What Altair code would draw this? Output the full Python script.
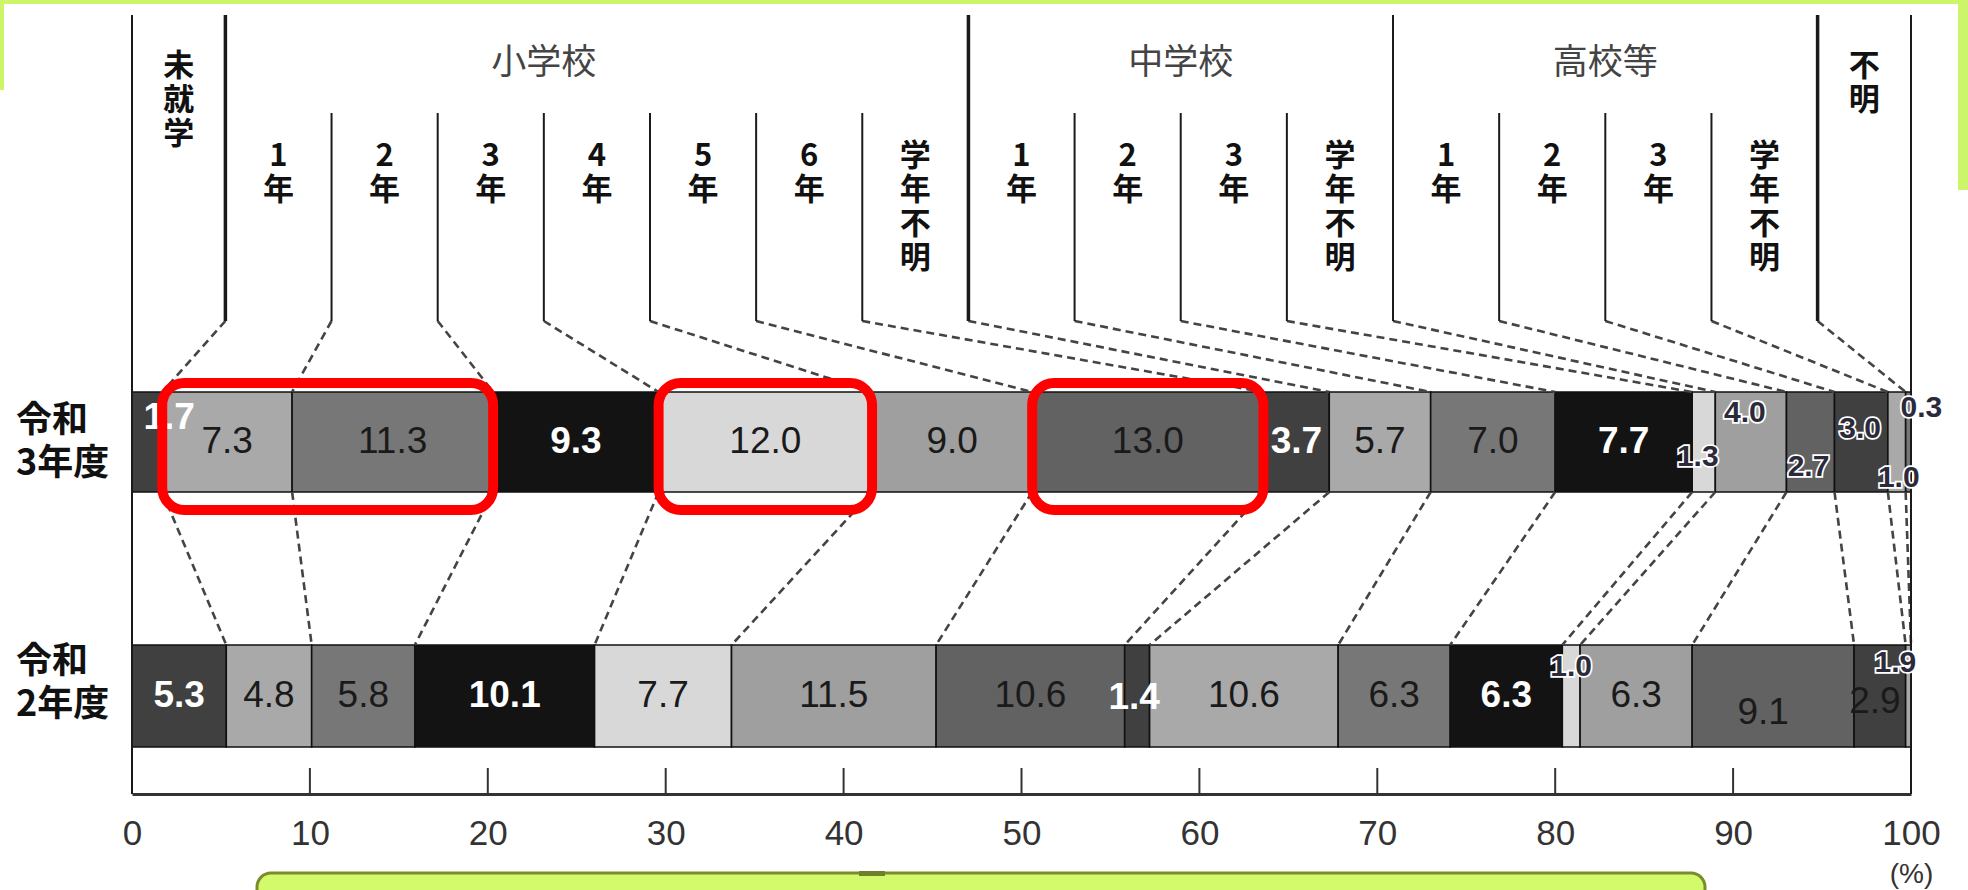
import altair as alt
import pandas as pd

# ---------------------------------------------------------------- data
ROWS = ["令和3年度", "令和2年度"]
ROW_TITLES = ["令和\n3年度", "令和\n2年度"]

GROUPS = ["未就学", "小学校", "中学校", "高校等", "不明"]
GROUP_GRADES = [
    [],
    ["1年", "2年", "3年", "4年", "5年", "6年", "学年不明"],
    ["1年", "2年", "3年", "学年不明"],
    ["1年", "2年", "3年", "学年不明"],
    [],
]

# shares (%) in category order: 未就学, 小1..小学年不明, 中1..中学年不明, 高1..高学年不明, 不明
SHARE_R3 = [1.7, 7.3, 11.3, 9.3, 12.0, 9.0, 13.0, 3.7, 5.7, 7.0, 7.7, 1.3, 4.0, 2.7, 3.0, 1.0, 0.3]
SHARE_R2 = [5.3, 4.8, 5.8, 10.1, 7.7, 11.5, 10.6, 1.4, 10.6, 6.3, 6.3, 1.0, 6.3, 9.1, 2.9, 1.9, None]

# segments framed in red on the 令和3年度 bar
HIGHLIGHT_R3 = [["小学校1年", "小学校2年"], ["小学校4年"], ["小学校6年"]]

TICKS = [0, 10, 20, 30, 40, 50, 60, 70, 80, 90, 100]

# ---------------------------------------------------------------- layout / style
PLOT_W, PLOT_H = 1779, 779
PX = PLOT_W / 100.0                      # pixels per percentage point
HEAD_TOP, SUB_TOP, HEAD_BOTTOM = 0, 98, 306
BAND = {"令和3年度": (377, 477), "令和2年度": (630, 732)}
ROW_TITLE_NUDGE = {"令和3年度": 0, "令和2年度": -13}
TICK_TOP = 753
EDGE_COL = 5.25                          # width of the 未就学 / 不明 header columns

PALETTE = ["#404040", "#a9a9a9", "#777777", "#131313", "#d8d8d8", "#9f9f9f", "#626262"]
DARK_FILLS = {"#404040", "#131313"}

NUM_FONT = "Liberation Sans Narrow, Arial Narrow, Liberation Sans, sans-serif"
JP_FONT = "Noto Sans CJK JP"

# label nudges in pixels (dx, dy) and label style for cramped segments
LABEL_TWEAKS = {
    ("令和3年度", 0): (22, -24, "white"),
    ("令和3年度", 11): (-6, 15, "halo"),
    ("令和3年度", 12): (-6, -29, "halo"),
    ("令和3年度", 13): (-2, 25, "halo"),
    ("令和3年度", 14): (-1, -13, "halo"),
    ("令和3年度", 15): (2, 36, "halo"),
    ("令和3年度", 16): (13, -34, "halo"),
    ("令和2年度", 7): (-3, 2, "white"),
    ("令和2年度", 11): (0, -29, "halo"),
    ("令和2年度", 13): (-10, 17, "dark"),
    ("令和2年度", 14): (-5, 6, "dark"),
    ("令和2年度", 15): (-13, -33, "halo"),
}

# ---------------------------------------------------------------- tables
cats = []
for g, grades in zip(GROUPS, GROUP_GRADES):
    if grades:
        cats += [(g, gr) for gr in grades]
    else:
        cats.append((g, None))
names = [g + (gr or "") for g, gr in cats]
n = len(cats)

inner_w = (100 - 2 * EDGE_COL) / (n - 2)
col_bounds = [0.0] + [EDGE_COL + inner_w * i for i in range(n - 1)] + [100.0]


def cumulative(shares):
    out, acc = [0.0], 0.0
    for v in shares:
        acc += v or 0.0
        out.append(min(acc, 100.0))
    return out


cum = {"令和3年度": cumulative(SHARE_R3), "令和2年度": cumulative(SHARE_R2)}

bar_rows, label_rows = [], []
for row, shares in zip(ROWS, [SHARE_R3, SHARE_R2]):
    top, bot = BAND[row]
    c = cum[row]
    for i, v in enumerate(shares):
        if v is None:
            continue
        fill = PALETTE[i % 7]
        bar_rows.append(dict(row=row, name=names[i], value=v, x=c[i], x2=c[i + 1],
                             y=top, y2=bot, fill=fill))
        dx, dy, style = LABEL_TWEAKS.get(
            (row, i), (0, 0, "white" if fill in DARK_FILLS else "dark"))
        label_rows.append(dict(row=row, text=f"{v:.1f}", style=style,
                               x=(c[i] + c[i + 1]) / 2 + dx / PX,
                               y=(top + bot) / 2 + dy))
bars = pd.DataFrame(bar_rows)
labels = pd.DataFrame(label_rows)

# dashed connectors: header column edges -> 令和3年度 -> 令和2年度
conn = []
r3t, r3b = BAND["令和3年度"]
r2t, _ = BAND["令和2年度"]
for k in range(1, n):
    conn.append(dict(x=col_bounds[k], x2=cum["令和3年度"][k], y=HEAD_BOTTOM, y2=r3t))
    conn.append(dict(x=cum["令和3年度"][k], x2=cum["令和2年度"][k], y=r3b, y2=r2t))
connectors = pd.DataFrame(conn)

# header frame lines
group_starts = []
pos = 0
for grades in GROUP_GRADES:
    group_starts.append(pos)
    pos += max(len(grades), 1)
vlines = [dict(x=0.0, y=HEAD_TOP, y2=PLOT_H, w=2.0), dict(x=100.0, y=HEAD_TOP, y2=PLOT_H, w=2.0)]
for k in range(1, n):
    if k in group_starts:
        vlines.append(dict(x=col_bounds[k], y=HEAD_TOP, y2=HEAD_BOTTOM,
                           w=2.0 if GROUPS[group_starts.index(k)] == "高校等" else 3.5))
    else:
        vlines.append(dict(x=col_bounds[k], y=SUB_TOP, y2=HEAD_BOTTOM, w=2.0))
header_lines = pd.DataFrame(vlines)

# header texts
sub_text, edge_text, group_text = [], [], []
for k, (g, gr) in enumerate(cats):
    xc = (col_bounds[k] + col_bounds[k + 1]) / 2
    if gr is None:
        edge_text.append(dict(x=xc, y=37, text="\n".join(g)))
    else:
        sub_text.append(dict(x=xc, y=127, text="\n".join(gr)))
GROUP_LABEL_SPAN = {"小学校": (1, 7), "中学校": (8, 12), "高校等": (12, 16)}
for g, (a, b) in GROUP_LABEL_SPAN.items():
    group_text.append(dict(x=(col_bounds[a] + col_bounds[b]) / 2, y=48, text=g))

# two-line row titles: y is the centre of the first line so the block sits on the bar
ROW_LINE_H = 43
row_titles = pd.DataFrame([
    dict(x=0.0, y=sum(BAND[r]) / 2 - ROW_LINE_H / 2 + ROW_TITLE_NUDGE[r], text=t)
    for r, t in zip(ROWS, ROW_TITLES)])

boxes = []
for grp in HIGHLIGHT_R3:
    i0, i1 = names.index(grp[0]), names.index(grp[-1])
    boxes.append(dict(x=cum["令和3年度"][i0], x2=cum["令和3年度"][i1 + 1],
                      y=r3t - 9, y2=r3b + 18))
highlight = pd.DataFrame(boxes)

inward_ticks = pd.DataFrame([dict(x=t, y=TICK_TOP, y2=PLOT_H) for t in TICKS[1:-1]])

# ---------------------------------------------------------------- encodings
XS = alt.Scale(domain=[0, 100], nice=False, zero=False)
YS = alt.Scale(domain=[0, PLOT_H], nice=False, zero=False, reverse=True)
XAXIS = alt.Axis(values=TICKS, format="d", labelFont=NUM_FONT, labelFontSize=35,
                 labelColor="#333333", labelPadding=22, labelFlush=False,
                 labelOverlap=False, ticks=False, tickSize=0, grid=False,
                 domain=True, domainColor="#333333", domainWidth=3,
                 title="(%)", titleFont=NUM_FONT, titleFontSize=28,
                 titleFontWeight="normal", titleColor="#333333",
                 titleAnchor="end", titleAlign="center", titleBaseline="top",
                 titleX=PLOT_W, titleY=66)


def X(f="x"):
    return alt.X(f"{f}:Q", scale=XS, axis=XAXIS)


def Y(f="y"):
    return alt.Y(f"{f}:Q", scale=YS, axis=None)


bar_layer = alt.Chart(bars).mark_rect(stroke="#111111", strokeWidth=1.6).encode(
    x=X(), x2="x2:Q", y=Y(), y2="y2:Q", fill=alt.Fill("fill:N", scale=None))

conn_layer = alt.Chart(connectors).mark_rule(
    color="#444444", strokeWidth=2.6, strokeDash=[8, 5]).encode(
    x=X(), x2="x2:Q", y=Y(), y2="y2:Q")

line_layer = alt.Chart(header_lines).mark_rule(color="#1a1a1a").encode(
    x=X(), y=Y(), y2="y2:Q", strokeWidth=alt.StrokeWidth("w:Q", scale=None))

tick_layer = alt.Chart(inward_ticks).mark_rule(color="#333333", strokeWidth=2).encode(
    x=X(), y=Y(), y2="y2:Q")

sub_layer = alt.Chart(pd.DataFrame(sub_text)).mark_text(
    font=JP_FONT, fontSize=31, fontWeight="bold", color="#111111",
    baseline="top", align="center", lineBreak="\n", lineHeight=34).encode(
    x=X(), y=Y(), text="text:N")

edge_layer = alt.Chart(pd.DataFrame(edge_text)).mark_text(
    font=JP_FONT, fontSize=31, fontWeight="bold", color="#111111",
    baseline="top", align="center", lineBreak="\n", lineHeight=34).encode(
    x=X(), y=Y(), text="text:N")

group_layer = alt.Chart(pd.DataFrame(group_text)).mark_text(
    font=JP_FONT, fontSize=35, color="#444444", baseline="middle", align="center").encode(
    x=X(), y=Y(), text="text:N")

row_layer = alt.Chart(row_titles).mark_text(
    font=JP_FONT, fontSize=36, fontWeight="bold", color="#111111",
    baseline="middle", align="left", dx=-116, lineBreak="\n", lineHeight=ROW_LINE_H).encode(
    x=X(), y=Y(), text="text:N")

dark_layer = alt.Chart(labels[labels["style"] == "dark"]).mark_text(
    font=NUM_FONT, fontSize=37, color="#1a1a1a", baseline="middle", align="center").encode(
    x=X(), y=Y(), text="text:N")

white_layer = alt.Chart(labels[labels["style"] == "white"]).mark_text(
    font=NUM_FONT, fontSize=37, fontWeight="bold", color="#ffffff",
    baseline="middle", align="center").encode(
    x=X(), y=Y(), text="text:N")

halo = labels[labels["style"] == "halo"]
halo_back = alt.Chart(halo).mark_text(
    font=NUM_FONT, fontSize=30, fontWeight="bold", color="#ffffff", stroke="#ffffff",
    strokeWidth=3.5, baseline="middle", align="center").encode(
    x=X(), y=Y(), text="text:N")
halo_front = alt.Chart(halo).mark_text(
    font=NUM_FONT, fontSize=30, fontWeight="bold", color="#2a2a3a",
    baseline="middle", align="center").encode(
    x=X(), y=Y(), text="text:N")

box_layer = alt.Chart(highlight).mark_rect(
    fillOpacity=0, stroke="#ff0000", strokeWidth=10, cornerRadius=22).encode(
    x=X(), x2="x2:Q", y=Y(), y2="y2:Q")

# slide frame: lime border pieces and the callout box below the axis
one = pd.DataFrame([{"k": 0}])
LIME = "#d3fa6a"
frame = [
    alt.Chart(one).mark_rect(fill=LIME, cornerRadius=14, stroke="#7c8c2c", strokeWidth=3).encode(
        x=alt.value(125), x2=alt.value(1573), y=alt.value(858), y2=alt.value(910)),
    alt.Chart(one).mark_rect(fill="#6f7f2a").encode(
        x=alt.value(727), x2=alt.value(753), y=alt.value(856), y2=alt.value(861)),
    alt.Chart(one).mark_rect(fill="#cdf56a").encode(
        x=alt.value(-132), x2=alt.value(1836), y=alt.value(-15), y2=alt.value(-11)),
    alt.Chart(one).mark_rect(fill="#cdf56a").encode(
        x=alt.value(-132), x2=alt.value(-128), y=alt.value(-15), y2=alt.value(75)),
    alt.Chart(one).mark_rect(fill="#cdf56a").encode(
        x=alt.value(1826), x2=alt.value(1836), y=alt.value(-15), y2=alt.value(175)),
]

chart = alt.layer(
    *frame,
    bar_layer, conn_layer, line_layer, tick_layer,
    sub_layer, edge_layer, group_layer, row_layer,
    dark_layer, white_layer, halo_back, halo_front,
    box_layer,
).properties(
    width=PLOT_W, height=PLOT_H,
    padding={"left": 132, "top": 15, "right": 57, "bottom": 96},
    autosize=alt.AutoSizeParams(type="none"),
    background="#ffffff",
).configure_view(strokeWidth=0)

chart.save("out.html", embed_options={"renderer": "svg", "actions": False})
